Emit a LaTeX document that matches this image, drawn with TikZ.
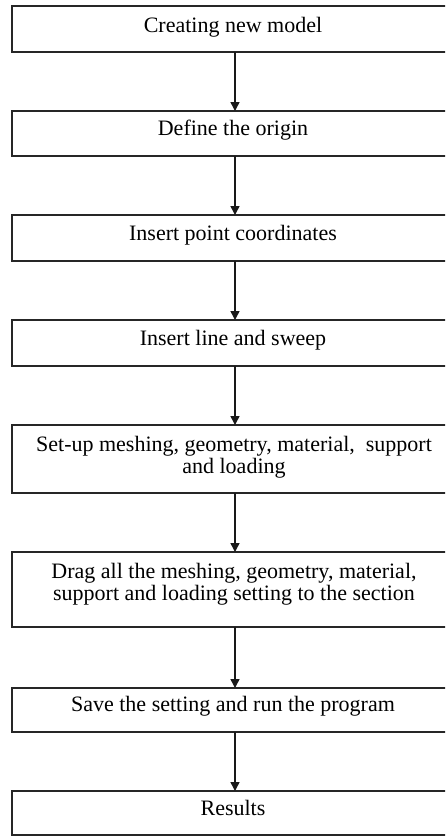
\documentclass[tikz,border=0pt]{standalone}
\usepackage{fontspec}
\setmainfont{Liberation Serif}
\usetikzlibrary{arrows.meta}
\newcommand\myboxfont{\fontsize{22}{22}\selectfont\lineskiplimit=-30pt\relax}
\begin{document}
\begin{tikzpicture}[x=1pt,y=-1pt,
  stepbox/.style={draw=none,rectangle,minimum width=500pt,inner sep=0pt,outer sep=0pt,anchor=north west},
  edge/.style={draw=black!85,line width=1.6pt,line join=miter},
  label/.style={font=\myboxfont,align=center,inner sep=0pt},
  flow/.style={draw=black!90,line width=1.5pt,-{Triangle[width=9pt,length=9pt]}}]
\useasboundingbox (0,0) rectangle (445,836);
\clip (0,0) rectangle (445,836);
\fill[white] (0,0) rectangle (445,836);
\coordinate (ax) at (235,0);
% boxes
\node[stepbox,minimum height=46pt] (b1) at (12,6) {};
\node[stepbox,minimum height=45pt] (b2) at (12,111) {};
\node[stepbox,minimum height=46pt] (b3) at (12,215) {};
\node[stepbox,minimum height=46pt] (b4) at (12,320) {};
\node[stepbox,minimum height=68pt] (b5) at (12,425) {};
\node[stepbox,minimum height=75pt] (b6) at (12,552) {};
\node[stepbox,minimum height=44pt] (b7) at (12,688) {};
\node[stepbox,minimum height=44pt] (b8) at (12,791) {};
\foreach \b in {b1,b2,b3,b4,b5,b6,b7,b8}
  \draw[edge] (\b.north east) -- (\b.north west) -- (\b.south west) -- (\b.south east);
% texts
\node[label,anchor=base] (t1) at (233,32) {Creating new model};
\node[label,anchor=base] (t2) at (233,135) {Define the origin};
\node[label,anchor=base] (t3) at (233,240) {Insert point coordinates};
\node[label,anchor=base] (t4) at (233,345) {Insert line and sweep};
\node[label] (t5) at (234,457) {Set-up meshing, geometry, material, \ support\\and loading};
\node[label] (t6) at (234,584) {Drag all the meshing, geometry, material,\\support and loading setting to the section};
\node[label,anchor=base] (t7) at (233,711) {Save the setting and run the program};
\node[label,anchor=base] (t8) at (233,815) {Results};
% connectors
\draw[flow] (ax |- b1.south) -- (ax |- b2.north);
\draw[flow] (ax |- b2.south) -- (ax |- b3.north);
\draw[flow] (ax |- b3.south) -- (ax |- b4.north);
\draw[flow] (ax |- b4.south) -- (ax |- b5.north);
\draw[flow] (ax |- b5.south) -- (ax |- b6.north);
\draw[flow] (ax |- b6.south) -- (ax |- b7.north);
\draw[flow] (ax |- b7.south) -- (ax |- b8.north);
\end{tikzpicture}
\end{document}
